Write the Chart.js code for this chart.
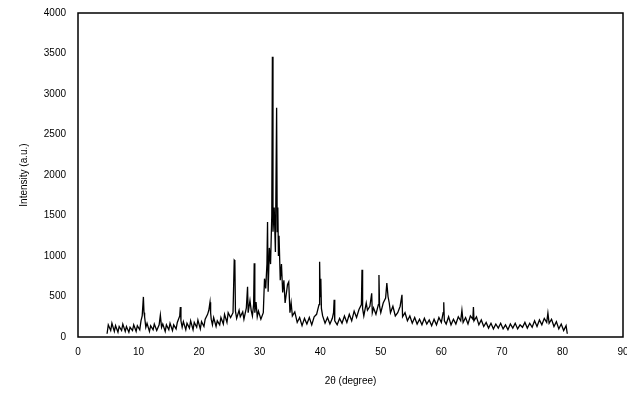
<!DOCTYPE html>
<html>
<head>
<meta charset="utf-8">
<script src="https://cdn.jsdelivr.net/npm/chart.js@4.4.1/dist/chart.umd.min.js"></script>
<style>
  html, body { margin: 0; padding: 0; background: #fff; }
  #wrap { width: 627px; height: 405px; }
</style>
</head>
<body>
<div id="wrap"><canvas id="xrd" width="627" height="405"></canvas></div>
<script>
// 2-theta positions (degree) and intensities
const twoTheta = [
  4.8, 5.0, 5.4, 5.6, 6.0, 6.2, 6.6, 6.8, 7.2, 7.4, 7.8, 8.0, 8.4, 8.6, 9.0, 9.2, 9.6, 9.8, 10.2, 10.4,
  10.6, 10.8, 10.9, 11.0, 11.2, 11.4, 11.8, 12.0, 12.4, 12.6, 13.0, 13.4, 13.6, 13.8, 14.0, 14.4, 14.6, 15.0, 15.2, 15.6,
  15.8, 16.2, 16.4, 16.8, 16.9, 17.0, 17.2, 17.4, 17.8, 18.0, 18.4, 18.6, 19.0, 19.2, 19.6, 19.8, 20.2, 20.4, 20.8, 21.0,
  21.4, 21.6, 21.8, 21.9, 22.0, 22.2, 22.4, 22.8, 23.0, 23.4, 23.6, 24.0, 24.2, 24.6, 24.8, 25.2, 25.6, 25.8, 25.9, 26.0,
  26.2, 26.6, 26.8, 27.2, 27.4, 27.8, 28.0, 28.1, 28.4, 28.6, 28.8, 29.0, 29.1, 29.2, 29.4, 29.6, 29.8, 30.2, 30.6, 30.8,
  31.0, 31.2, 31.3, 31.4, 31.6, 31.8, 32.0, 32.1, 32.2, 32.4, 32.6, 32.8, 32.9, 33.0, 33.1, 33.2, 33.4, 33.6, 33.8, 34.0,
  34.2, 34.6, 34.8, 35.0, 35.2, 35.4, 35.8, 36.2, 36.6, 37.0, 37.4, 37.8, 38.2, 38.6, 39.0, 39.4, 39.8, 39.9, 40.0, 40.1,
  40.2, 40.4, 40.8, 41.2, 41.6, 42.0, 42.2, 42.3, 42.4, 42.8, 43.2, 43.6, 44.0, 44.4, 44.8, 45.2, 45.6, 46.0, 46.4, 46.8,
  46.9, 47.0, 47.2, 47.6, 47.8, 48.2, 48.5, 48.6, 48.8, 49.2, 49.6, 49.7, 49.8, 50.0, 50.4, 50.8, 51.0, 51.2, 51.4, 51.6,
  52.0, 52.4, 52.8, 53.2, 53.5, 53.6, 54.0, 54.4, 54.8, 55.2, 55.6, 56.0, 56.4, 56.8, 57.2, 57.6, 58.0, 58.4, 58.8, 59.2,
  59.6, 60.0, 60.3, 60.4, 60.5, 60.8, 61.2, 61.6, 62.0, 62.4, 62.8, 63.2, 63.4, 63.6, 64.0, 64.4, 64.8, 65.2, 65.3, 65.4,
  65.8, 66.2, 66.6, 67.0, 67.4, 67.8, 68.2, 68.6, 69.0, 69.4, 69.8, 70.2, 70.6, 71.0, 71.4, 71.8, 72.2, 72.6, 73.0, 73.4,
  73.8, 74.2, 74.6, 75.0, 75.4, 75.8, 76.2, 76.6, 77.0, 77.4, 77.6, 77.8, 78.2, 78.6, 79.0, 79.4, 79.8, 80.2, 80.6, 80.8
];
const intensity = [
  40, 150, 80, 170, 70, 140, 60, 130, 80, 160, 70, 130, 60, 120, 80, 150, 70, 140, 90, 200,
  260, 495, 300, 250, 120, 170, 70, 140, 90, 160, 80, 150, 270, 120, 160, 70, 150, 90, 170, 80,
  150, 100, 180, 260, 370, 200, 120, 190, 90, 170, 110, 200, 90, 180, 120, 210, 100, 190, 130, 220,
  280, 330, 430, 300, 220, 150, 240, 130, 200, 150, 240, 160, 280, 180, 300, 240, 300, 950, 940, 320,
  230, 330, 250, 310, 220, 360, 620, 300, 450, 330, 260, 400, 910, 300, 430, 250, 320, 220, 300, 720,
  600, 900, 1420, 560, 1100, 900, 1500, 3460, 1300, 1600, 1050, 2830, 1300, 1600, 1000, 1250, 700, 900, 550, 700,
  420, 650, 680, 300, 420, 260, 310, 180, 240, 140, 230, 160, 240, 150, 250, 280, 400, 930, 500, 720,
  350, 260, 170, 240, 160, 230, 300, 460, 200, 150, 230, 170, 260, 180, 280, 200, 320, 240, 340, 400,
  830, 350, 260, 420, 330, 380, 540, 300, 360, 280, 400, 765, 380, 300, 420, 480, 665, 500, 420, 300,
  380, 260, 300, 380, 520, 250, 300, 200, 260, 170, 240, 160, 220, 150, 230, 160, 210, 140, 220, 150,
  240, 180, 300, 430, 200, 160, 250, 150, 220, 160, 250, 200, 330, 180, 240, 160, 260, 220, 370, 200,
  250, 150, 210, 130, 180, 110, 170, 100, 160, 110, 170, 100, 150, 90, 160, 110, 170, 100, 150, 120,
  180, 110, 170, 120, 200, 130, 210, 150, 230, 180, 295, 170, 220, 130, 190, 100, 160, 80, 140, 40
];
const xTicks = [0, 10, 20, 30, 40, 50, 60, 70, 80, 90];
const yTicks = [0, 500, 1000, 1500, 2000, 2500, 3000, 3500, 4000];

const points = twoTheta.map((t, i) => ({ x: t, y: intensity[i] }));

const frame = {
  id: 'frame',
  afterDraw(chart) {
    const a = chart.chartArea;
    const c = chart.ctx;
    c.save();
    c.strokeStyle = '#000';
    c.lineWidth = 1.5;
    c.strokeRect(a.left, a.top, a.right - a.left, a.bottom - a.top);
    c.restore();
  }
};

const font = { family: 'Liberation Sans, Arial, sans-serif', size: 10 };

new Chart(document.getElementById('xrd'), {
  type: 'scatter',
  data: {
    datasets: [{
      data: points,
      showLine: true,
      borderColor: '#000',
      borderWidth: 1.3,
      pointRadius: 0,
      tension: 0
    }]
  },
  options: {
    responsive: false,
    animation: false,
    layout: { padding: { left: 14, right: 4, top: 13, bottom: 14 } },
    plugins: { legend: { display: false }, tooltip: { enabled: false } },
    scales: {
      x: {
        type: 'linear',
        min: 0, max: 90,
        afterBuildTicks: s => { s.ticks = xTicks.map(v => ({ value: v })); },
        afterFit: s => { s.height = 54; s.paddingRight = 0; s.paddingLeft = 0; },
        grid: { display: false, drawTicks: false },
        border: { display: false },
        ticks: { color: '#000', font: font, padding: 9, maxRotation: 0, callback: v => String(v) },
        title: { display: true, text: '2θ (degree)', color: '#000', font: font, padding: { top: 8 } }
      },
      y: {
        min: 0, max: 4000,
        afterBuildTicks: s => { s.ticks = yTicks.map(v => ({ value: v })); },
        afterFit: s => { s.width = 64; s.paddingTop = 0; s.paddingBottom = 0; },
        grid: { display: false, drawTicks: false },
        border: { display: false },
        ticks: { color: '#000', font: font, padding: 12, callback: v => String(v) },
        title: { display: true, text: 'Intensity (a.u.)', color: '#000', font: font, padding: { bottom: 2 } }
      }
    }
  },
  plugins: [frame]
});
</script>
</body>
</html>
